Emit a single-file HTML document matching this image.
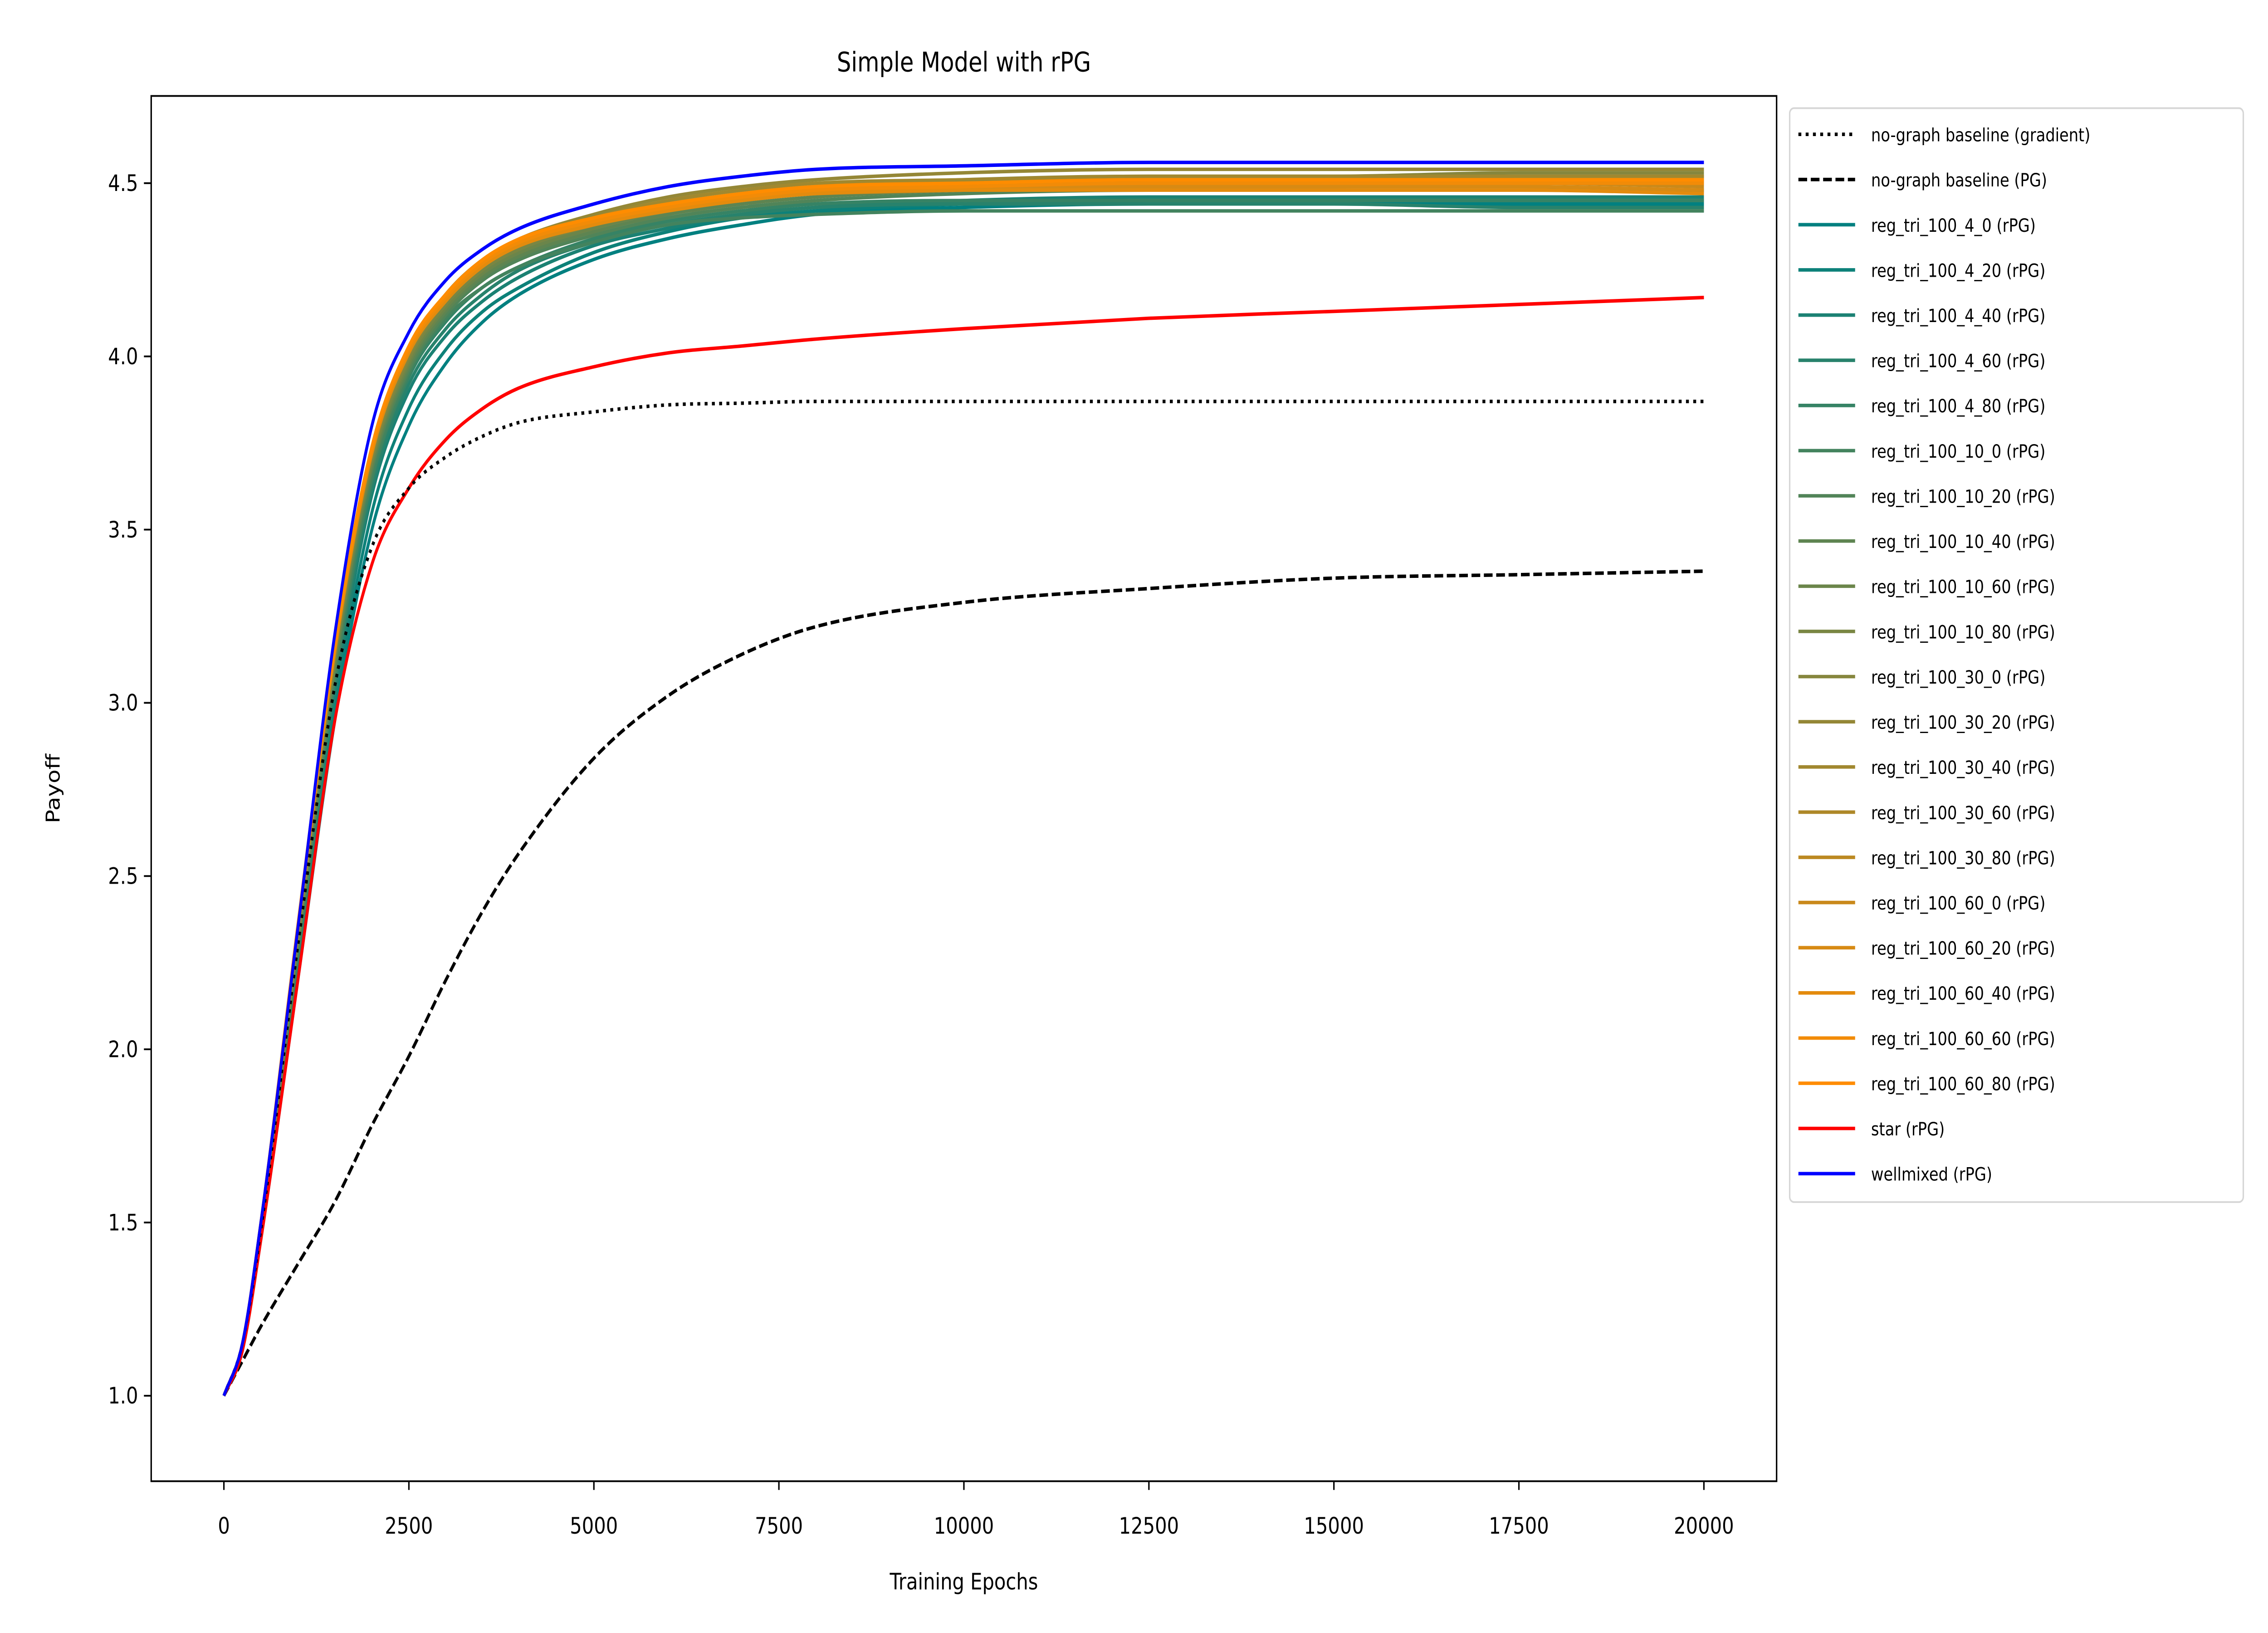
<!DOCTYPE html>
<html><head><meta charset="utf-8"><style>
html,body{margin:0;padding:0;background:#fff;overflow:hidden;width:100vw;height:100vh;}
svg{display:block;width:100vw;height:100vh;font-family:"DejaVu Sans","Liberation Sans",sans-serif;}
</style></head><body>
<svg id="chart" viewBox="0 0 1560 936" preserveAspectRatio="none" xmlns="http://www.w3.org/2000/svg">
<rect width="1560" height="936" fill="#fff"/>
<text x="663" y="41" font-size="15.5" text-anchor="middle">Simple Model with rPG</text>
<g id="plot"></g>
<g id="axes"></g>
<rect x="104" y="55" width="1118" height="794" fill="none" stroke="#000" stroke-width="1"/>
<text x="663" y="911" font-size="13" text-anchor="middle">Training Epochs</text>
<text x="0" y="0" font-size="13" text-anchor="middle" transform="translate(41,452) rotate(-90)">Payoff</text>
<g id="legend"></g>
</svg>
<script>
const epochs=[0,250,500,1000,1500,2000,2500,3000,3500,4000,5000,6000,7000,8000,10000,12500,15000,17500,20000];
const xTicks=[0,2500,5000,7500,10000,12500,15000,17500,20000];
const yTicks=[1.0,1.5,2.0,2.5,3.0,3.5,4.0,4.5];
const seriesNames=["no-graph baseline (gradient)","no-graph baseline (PG)","reg_tri_100_4_0 (rPG)","reg_tri_100_4_20 (rPG)","reg_tri_100_4_40 (rPG)","reg_tri_100_4_60 (rPG)","reg_tri_100_4_80 (rPG)","reg_tri_100_10_0 (rPG)","reg_tri_100_10_20 (rPG)","reg_tri_100_10_40 (rPG)","reg_tri_100_10_60 (rPG)","reg_tri_100_10_80 (rPG)","reg_tri_100_30_0 (rPG)","reg_tri_100_30_20 (rPG)","reg_tri_100_30_40 (rPG)","reg_tri_100_30_60 (rPG)","reg_tri_100_30_80 (rPG)","reg_tri_100_60_0 (rPG)","reg_tri_100_60_20 (rPG)","reg_tri_100_60_40 (rPG)","reg_tri_100_60_60 (rPG)","reg_tri_100_60_80 (rPG)","star (rPG)","wellmixed (rPG)"];
const gradientVals=[1.0,1.15,1.48,2.3,3.05,3.45,3.62,3.71,3.77,3.81,3.84,3.86,3.865,3.87,3.87,3.87,3.87,3.87,3.87];
const pgVals=[1.0,1.1,1.2,1.38,1.56,1.78,1.98,2.2,2.4,2.57,2.84,3.02,3.14,3.22,3.29,3.33,3.36,3.37,3.38];
const reg4_0=[1,1.13,1.45,2.2,2.95,3.5,3.8,3.98,4.1,4.18,4.28,4.34,4.38,4.41,4.43,4.44,4.44,4.44,4.44];
const reg4_20=[1,1.13,1.46,2.22,2.98,3.55,3.85,4.02,4.13,4.2,4.3,4.36,4.4,4.42,4.44,4.45,4.45,4.45,4.45];
const reg4_40=[1,1.14,1.47,2.25,3.02,3.6,3.9,4.06,4.16,4.23,4.32,4.37,4.41,4.43,4.45,4.46,4.46,4.46,4.46];
const reg4_60=[1,1.14,1.47,2.26,3.05,3.62,3.92,4.08,4.18,4.25,4.33,4.38,4.41,4.43,4.44,4.44,4.44,4.43,4.43];
const reg4_80=[1,1.14,1.48,2.28,3.07,3.64,3.94,4.1,4.2,4.26,4.34,4.39,4.42,4.44,4.45,4.45,4.45,4.45,4.45];
const reg10_0=[1,1.14,1.48,2.28,3.08,3.65,3.95,4.11,4.2,4.26,4.33,4.38,4.4,4.41,4.42,4.42,4.42,4.42,4.42];
const reg10_20=[1,1.14,1.48,2.3,3.1,3.67,3.96,4.12,4.22,4.28,4.35,4.4,4.43,4.45,4.47,4.48,4.48,4.48,4.48];
const reg10_40=[1,1.15,1.49,2.31,3.11,3.68,3.97,4.13,4.23,4.29,4.36,4.41,4.44,4.46,4.48,4.49,4.49,4.5,4.5];
const reg10_60=[1,1.15,1.49,2.32,3.12,3.69,3.98,4.14,4.24,4.3,4.37,4.42,4.45,4.47,4.49,4.5,4.5,4.51,4.51];
const reg10_80=[1,1.15,1.49,2.32,3.13,3.7,3.99,4.15,4.25,4.31,4.38,4.43,4.46,4.48,4.5,4.51,4.51,4.52,4.52];
const reg30_0=[1,1.15,1.5,2.33,3.14,3.71,4.0,4.16,4.26,4.32,4.39,4.44,4.47,4.49,4.51,4.52,4.52,4.53,4.53];
const reg30_20=[1,1.15,1.5,2.34,3.15,3.72,4.02,4.18,4.28,4.34,4.41,4.46,4.49,4.51,4.53,4.54,4.54,4.54,4.54];
const reg30_40=[1,1.15,1.5,2.34,3.15,3.72,4.01,4.17,4.27,4.33,4.4,4.45,4.48,4.5,4.51,4.52,4.52,4.52,4.52];
const reg30_60=[1,1.15,1.5,2.35,3.16,3.73,4.02,4.17,4.27,4.33,4.4,4.44,4.47,4.49,4.5,4.5,4.51,4.51,4.51];
const reg30_80=[1,1.15,1.5,2.35,3.16,3.73,4.02,4.17,4.27,4.33,4.39,4.44,4.46,4.48,4.49,4.5,4.5,4.5,4.5];
const reg60_0=[1,1.15,1.5,2.35,3.16,3.73,4.02,4.17,4.27,4.33,4.39,4.43,4.46,4.48,4.49,4.49,4.5,4.5,4.49];
const reg60_20=[1,1.15,1.5,2.35,3.15,3.72,4.01,4.16,4.26,4.32,4.38,4.43,4.46,4.47,4.48,4.49,4.49,4.49,4.48];
const reg60_40=[1,1.15,1.5,2.35,3.15,3.72,4.01,4.16,4.26,4.32,4.38,4.42,4.45,4.47,4.48,4.48,4.48,4.48,4.47];
const reg60_60=[1,1.15,1.5,2.35,3.16,3.73,4.02,4.17,4.27,4.33,4.39,4.43,4.46,4.48,4.49,4.5,4.5,4.5,4.5];
const reg60_80=[1,1.15,1.5,2.36,3.17,3.74,4.03,4.18,4.28,4.34,4.4,4.44,4.47,4.49,4.5,4.51,4.51,4.51,4.51];
const starVals=[1.0,1.13,1.45,2.2,2.95,3.4,3.62,3.76,3.85,3.91,3.97,4.01,4.03,4.05,4.08,4.11,4.13,4.15,4.17];
const wellmixedVals=[1.0,1.15,1.5,2.35,3.2,3.8,4.07,4.22,4.31,4.37,4.44,4.49,4.52,4.54,4.55,4.56,4.56,4.56,4.56];

const regSeries=[reg4_0,reg4_20,reg4_40,reg4_60,reg4_80,reg10_0,reg10_20,reg10_40,reg10_60,reg10_80,reg30_0,reg30_20,reg30_40,reg30_60,reg30_80,reg60_0,reg60_20,reg60_40,reg60_60,reg60_80];

const NS="http://www.w3.org/2000/svg";
const X0=154,X1=1172,Y1v=800,Y45=105;
function xs(v){return X0+(v-0)/(20000-0)*(X1-X0);}
function ys(v){return Y1v-(v-1.0)/(4.5-1.0)*(Y1v-Y45);}
function regColor(i){const t=i/19;const r=Math.round(0+t*255),g=Math.round(128+t*12),b=Math.round(128-t*128);return `rgb(${r},${g},${b})`;}

function smoothPath(px,py){
  const n=px.length;const d=[],m=[];
  for(let i=0;i<n-1;i++)d.push((py[i+1]-py[i])/(px[i+1]-px[i]));
  m[0]=d[0];m[n-1]=d[n-2];
  for(let i=1;i<n-1;i++){m[i]=(d[i-1]*d[i]<=0)?0:(d[i-1]+d[i])/2;}
  for(let i=0;i<n-1;i++){
    if(d[i]===0){m[i]=0;m[i+1]=0;continue;}
    const a=m[i]/d[i],b=m[i+1]/d[i],s=a*a+b*b;
    if(s>9){const t=3/Math.sqrt(s);m[i]=t*a*d[i];m[i+1]=t*b*d[i];}
  }
  let p='M'+px[0].toFixed(2)+','+py[0].toFixed(2);
  for(let i=0;i<n-1;i++){
    const h=(px[i+1]-px[i])/3;
    p+='C'+(px[i]+h).toFixed(2)+','+(py[i]+m[i]*h).toFixed(2)+' '+(px[i+1]-h).toFixed(2)+','+(py[i+1]-m[i+1]*h).toFixed(2)+' '+px[i+1].toFixed(2)+','+py[i+1].toFixed(2);
  }
  return p;
}

const plot=document.getElementById('plot');
function drawLine(vals,color,dash,name,w){
  const p=document.createElementNS(NS,'path');
  const px=epochs.map(xs),py=vals.map(ys);
  p.setAttribute('d',smoothPath(px,py));p.setAttribute('fill','none');p.setAttribute('stroke',color);
  p.setAttribute('stroke-width',w||2);p.setAttribute('stroke-linejoin','round');
  if(dash)p.setAttribute('stroke-dasharray',dash);
  
  
  plot.appendChild(p);
}
drawLine(pgVals,'#000','6,2.5','line-no-graph-pg');
regSeries.forEach((s,i)=>drawLine(s,regColor(i),null,'line-'+seriesNames[i+2].split(' ')[0].replace(/_/g,'-')));
drawLine(starVals,'#ff0000',null,'line-star');
drawLine(gradientVals,'#000','2,3','line-no-graph-gradient');
drawLine(wellmixedVals,'#0000ff',null,'line-wellmixed');

const axes=document.getElementById('axes');
xTicks.forEach(t=>{
  const l=document.createElementNS(NS,'line');
  l.setAttribute('x1',xs(t));l.setAttribute('x2',xs(t));l.setAttribute('y1',849);l.setAttribute('y2',854);l.setAttribute('stroke','#000');
  
  
  axes.appendChild(l);
  const tx=document.createElementNS(NS,'text');
  tx.setAttribute('x',xs(t));tx.setAttribute('y',879);tx.setAttribute('font-size','13');tx.setAttribute('text-anchor','middle');tx.textContent=String(t);
  
  
  axes.appendChild(tx);
});
yTicks.forEach(t=>{
  const l=document.createElementNS(NS,'line');
  l.setAttribute('x1',99);l.setAttribute('x2',104);l.setAttribute('y1',ys(t));l.setAttribute('y2',ys(t));l.setAttribute('stroke','#000');
  
  
  axes.appendChild(l);
  const tx=document.createElementNS(NS,'text');
  tx.setAttribute('x',95);tx.setAttribute('y',ys(t)+4.5);tx.setAttribute('font-size','13');tx.setAttribute('text-anchor','end');tx.textContent=t.toFixed(1);
  
  
  axes.appendChild(tx);
});

const lg=document.getElementById('legend');
const box=document.createElementNS(NS,'rect');
box.setAttribute('x',1231);box.setAttribute('y',62);box.setAttribute('width',312);box.setAttribute('height',627);box.setAttribute('rx',3);
box.setAttribute('fill','#fff');box.setAttribute('stroke','#d6d6d6');box.setAttribute('stroke-width',1);


lg.appendChild(box);
seriesNames.forEach((n,i)=>{
  const y=77+i*25.9;
  let color='#000',dash=null;
  if(i===0)dash='2,3'; else if(i===1)dash='6,2.5'; else if(i===22)color='#ff0000'; else if(i===23)color='#0000ff'; else color=regColor(i-2);
  const l=document.createElementNS(NS,'line');
  l.setAttribute('x1',1237);l.setAttribute('x2',1276);l.setAttribute('y1',y);l.setAttribute('y2',y);l.setAttribute('stroke',color);l.setAttribute('stroke-width',2);
  if(dash)l.setAttribute('stroke-dasharray',dash);
  
  
  lg.appendChild(l);
  const tx=document.createElementNS(NS,'text');
  tx.setAttribute('x',1287);tx.setAttribute('y',y+4);tx.setAttribute('font-size','10.5');tx.textContent=n;
  
  
  lg.appendChild(tx);
});
</script>
</body></html>
